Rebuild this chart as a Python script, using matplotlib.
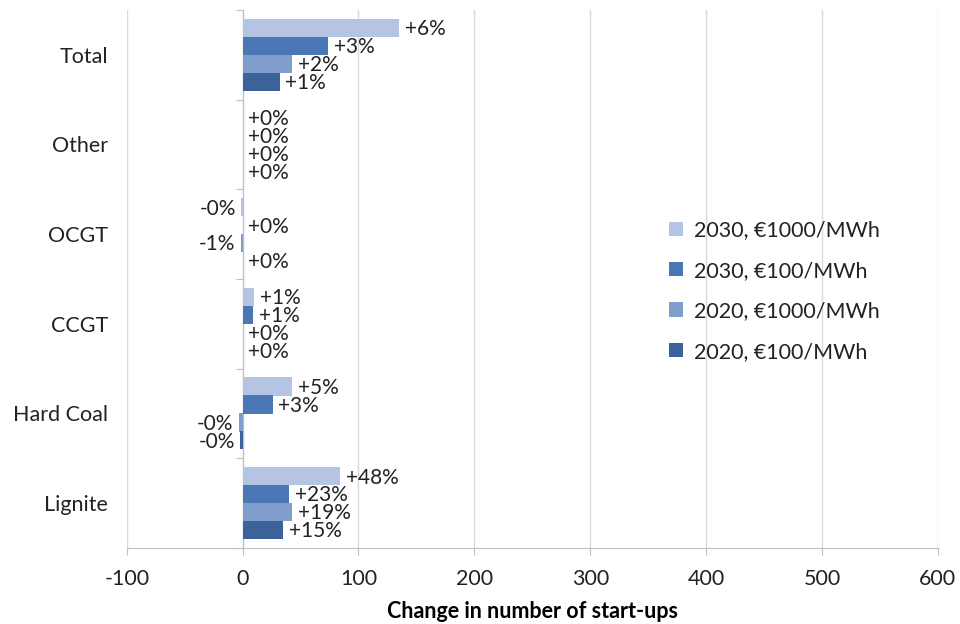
import matplotlib
matplotlib.use("Agg")
import matplotlib.pyplot as plt
from matplotlib.patches import Patch
import numpy as np

plt.rcParams['font.family'] = ['Lato', 'DejaVu Sans']
plt.rcParams['axes.unicode_minus'] = False

# categories top to bottom
categories = ["Total", "Other", "OCGT", "CCGT", "Hard Coal", "Lignite"]
series_names = ["2030, €1000/MWh", "2030, €100/MWh", "2020, €1000/MWh", "2020, €100/MWh"]
colors = ["#b4c4e2", "#4a78b6", "#7f9ece", "#3b6399"]

# change in number of start-ups, per series, per category (top to bottom)
vals_2030_1000 = [135, 0, -1, 10, 43, 84]
vals_2030_100 = [74, 0, 0, 9, 26, 40]
vals_2020_1000 = [43, 0, -1.5, 0, -3, 43]
vals_2020_100 = [32, 0, 0, 0, -2, 35]

lab_2030_1000 = ["+6%", "+0%", "-0%", "+1%", "+5%", "+48%"]
lab_2030_100 = ["+3%", "+0%", "+0%", "+1%", "+3%", "+23%"]
lab_2020_1000 = ["+2%", "+0%", "-1%", "+0%", "-0%", "+19%"]
lab_2020_100 = ["+1%", "+0%", "+0%", "+0%", "-0%", "+15%"]

values = [vals_2030_1000, vals_2030_100, vals_2020_1000, vals_2020_100]
labels = [lab_2030_1000, lab_2030_100, lab_2020_1000, lab_2020_100]

fig = plt.figure(figsize=(9.6, 6.24), dpi=100)
ax = fig.add_axes([0.132, 0.122, 0.845, 0.862])

n = len(categories)
ypos = np.arange(n)[::-1]
h = 0.205
offsets = [0.3, 0.1, -0.1, -0.3]

for s in range(4):
    y = ypos + offsets[s]
    ax.barh(y, values[s], height=h, color=colors[s], zorder=3)
    for yy, v, lab in zip(y, values[s], labels[s]):
        if v < 0:
            ax.annotate(lab, (v, yy), xytext=(-4, -1), textcoords="offset points",
                        ha="right", va="center", fontsize=15, color="#222222")
        else:
            ax.annotate(lab, (v, yy), xytext=(4, -1), textcoords="offset points",
                        ha="left", va="center", fontsize=15, color="#222222")

ax.set_xlim(-100, 600)
ax.set_ylim(-0.5, n - 0.5)
ax.set_xticks(np.arange(-100, 601, 100))
ax.tick_params(axis="x", labelsize=15.5, length=5, color="#bfbfbf", pad=10, labelcolor="#222222")
ax.xaxis.grid(True, color="#d9d9d9", linewidth=1, zorder=0)

ax.spines["top"].set_visible(False)
ax.spines["right"].set_visible(False)
ax.spines["bottom"].set_color("#bfbfbf")
ax.spines["left"].set_color("#bfbfbf")
ax.spines["left"].set_position(("data", 0))

ax.set_yticks(np.arange(n + 1) - 0.5)
ax.set_yticklabels([])
ax.set_yticks(ypos, minor=True)
ax.set_yticklabels(categories, minor=True)
ax.tick_params(axis="y", which="major", length=5, color="#bfbfbf")
ax.tick_params(axis="y", which="minor", length=0, pad=97, labelsize=15.5, labelcolor="#222222")

ax.set_xlabel("Change in number of start-ups", fontsize=15.5, fontweight="bold", labelpad=9)

handles = [Patch(facecolor=c) for c in colors]
leg = ax.legend(handles, series_names, loc="upper left", bbox_to_anchor=(0.645, 0.645),
                frameon=False, fontsize=15.5, handlelength=0.65, handleheight=0.65,
                labelspacing=0.95, handletextpad=0.5)
for t in leg.get_texts():
    t.set_color("#222222")

fig.savefig("out.png", dpi=100)
